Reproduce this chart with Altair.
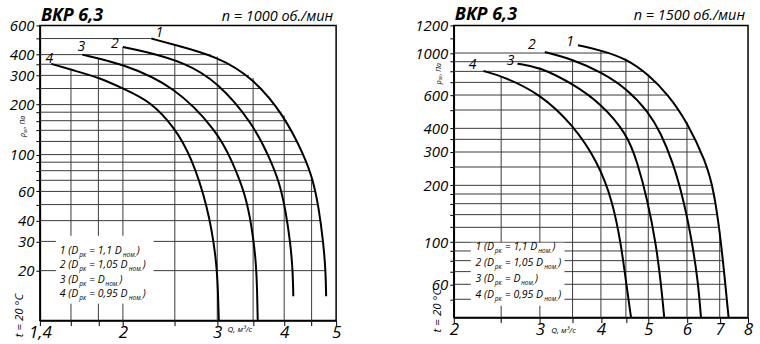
import numpy as np
import pandas as pd
import altair as alt

FONT = "Open Sans"

# ---------------- left panel: n = 1000 ----------------
L_TITLE = "ВКР 6,3"
L_SPEED = "n = 1000 об./мин"
L_Q1 = [2.26, 2.5, 3.0, 3.5, 4.0, 4.37, 4.53, 4.64, 4.73, 4.78, 4.79]
L_P1 = [500, 458, 390, 290, 172, 97, 70, 48, 30, 20, 14]
L_Q2 = [2.0, 2.2, 2.6, 3.0, 3.5, 3.76, 3.92, 4.03, 4.11, 4.15, 4.16]
L_P2 = [445, 418, 360, 276, 153, 95, 68, 45, 29, 20, 14]
L_Q3 = [1.68, 2.0, 2.5, 3.0, 3.19, 3.38, 3.48, 3.54, 3.56, 3.57]
L_P3 = [400, 352, 258, 138, 93, 59, 37, 23.5, 16, 10]
L_Q4 = [1.47, 1.61, 1.81, 2.0, 2.25, 2.5, 2.68, 2.88, 2.99, 3.01, 3.02]
L_P4 = [352, 323, 290, 250, 210, 145, 98, 49, 23.5, 15, 10]
L_HGRID = [500, 400, 350, 300, 250, 200, 180, 160, 140, 120, 100, 90, 80, 70, 60, 50, 40, 30, 20]
L_VGRID = [1.6, 1.8, 2.0, 2.5, 3.0, 3.5, 4.0, 4.5]
L_Y_LABEL_VALUES = [600, 400, 300, 200, 100, 60, 40, 30, 20]
L_Y_LABEL_TEXT = ["600", "400", "300", "200", "100", "60", "40", "30", "20"]
L_X_LABEL_VALUES = [1.4, 2, 3, 4, 5]
L_X_LABEL_TEXT = ["1,4", "2", "3", "4", "5"]
L_X_DOMAIN = [1.4, 5]
L_Y_DOMAIN = [10, 600]

# ---------------- right panel: n = 1500 ----------------
R_TITLE = "ВКР 6,3"
R_SPEED = "n = 1500 об./мин"
R_Q1 = [3.59, 4.0, 4.52, 5.0, 5.5, 6.0, 6.56, 6.82, 7.03, 7.18, 7.3]
R_P1 = [1100, 1035, 930, 770, 600, 433, 267, 185, 105, 62, 40]
R_Q2 = [3.07, 3.5, 4.0, 4.52, 5.0, 5.3, 5.61, 5.92, 6.16, 6.32, 6.41]
R_P2 = [1012, 927, 794, 649, 489, 380, 267, 164, 97, 62, 40]
R_Q3 = [2.70, 3.0, 3.5, 4.0, 4.52, 4.75, 4.98, 5.19, 5.32, 5.39]
R_P3 = [879, 843, 689, 541, 375, 265, 168, 97, 57.5, 40]
R_Q4 = [2.30, 2.52, 3.0, 3.5, 3.94, 4.23, 4.40, 4.52, 4.61]
R_P4 = [804, 753, 611, 420, 267, 164, 97, 57.5, 40]
R_HGRID = [1000, 900, 800, 700, 600, 500, 400, 350, 300, 250, 200, 180, 160, 140, 120,
           100, 90, 80, 70, 60, 50]
R_VGRID = [2.5, 3.0, 3.5, 4.0, 4.5, 5.0, 6.0, 7.0]
R_Y_EXTRA_TICKS = [1200, 1400]
R_Y_LABEL_VALUES = [1400, 1000, 600, 400, 300, 200, 100, 60]
R_Y_LABEL_TEXT = ["1200", "1000", "600", "400", "300", "200", "100", "60"]
R_X_LABEL_VALUES = [2, 3, 4, 5, 6, 7, 8]
R_X_LABEL_TEXT = ["2", "3", "4", "5", "6", "7", "8"]
R_X_DOMAIN = [2, 8]
R_Y_DOMAIN = [40, 1400]

CURVE_NAMES = ["1", "2", "3", "4"]
LEGEND_LINES = [
    [("1 (D", False), ("рк", True), (" = 1,1 D", False), ("ном.", True), (")", False)],
    [("2 (D", False), ("рк", True), (" = 1,05 D", False), ("ном.", True), (")", False)],
    [("3 (D", False), ("рк", True), (" = D", False), ("ном.", True), (")", False)],
    [("4 (D", False), ("рк", True), (" = 0,95 D", False), ("ном.", True), (")", False)],
]
AXIS_P = ("p", "sv", ", Па")
TEMP_TEXT = "t = 20 °C"
Q_TEXT = "Q, м³/с"

GRID_COLOR = "#3a3a3a"

# approximate advance widths (em) for width estimation of legend segments
W = {" ": 0.26, "(": 0.30, ")": 0.30, "D": 0.72, "=": 0.57, ",": 0.25, ".": 0.26,
     "р": 0.60, "к": 0.50, "н": 0.60, "о": 0.58, "м": 0.74, "p": 0.60, "s": 0.46,
     "v": 0.50, "П": 0.72, "а": 0.55}
for d in "0123456789":
    W[d] = 0.572


def tw(s, size):
    return sum(W.get(c, 0.55) for c in s) * size


def q_at_p(qs, ps, g):
    if g > ps[0] + 1e-9 or g < ps[-1] - 1e-9:
        return None
    for i in range(len(ps) - 1):
        if ps[i] >= g >= ps[i + 1]:
            a, b = np.log(ps[i]), np.log(ps[i + 1])
            t = 0.0 if a == b else (a - np.log(g)) / (a - b)
            return float(np.exp(np.log(qs[i]) + t * (np.log(qs[i + 1]) - np.log(qs[i]))))
    return float(qs[0])


def p_at_q(qs, ps, v):
    if v < qs[0] - 1e-9 or v > qs[-1] + 1e-9:
        return None
    for i in range(len(qs) - 1):
        if qs[i] <= v <= qs[i + 1]:
            a, b = np.log(qs[i]), np.log(qs[i + 1])
            t = 0.0 if a == b else (np.log(v) - a) / (b - a)
            return float(np.exp(np.log(ps[i]) + t * (np.log(ps[i + 1]) - np.log(ps[i]))))
    return float(ps[0])


def label_expr(values, texts):
    parts = [f"abs(datum.value - {v}) < 1e-6 ? '{t}'" for v, t in zip(values, texts)]
    return " : ".join(parts) + " : ''"


def txt(text, x, y, size, style="italic", weight="normal", align="left",
        baseline="alphabetic", angle=0):
    return alt.Chart(alt.Data(values=[{}])).mark_text(
        text=text, font=FONT, fontSize=size, fontStyle=style, fontWeight=weight,
        align=align, baseline=baseline, angle=angle, color="black"
    ).encode(x=alt.value(x), y=alt.value(y))


def panel(curves, hgrid, vgrid, xdom, ydom, xlv, xlt, ylv, ylt, yextra, width, height,
          title, speed, lab_off, box, leg_x, leg_y, leg_step, p_pos, t_pos, q_pos,
          title_y, bounds):
    xscale = alt.Scale(type="log", domain=xdom, nice=False)
    yscale = alt.Scale(type="log", domain=ydom, nice=False)
    xaxis = alt.Axis(values=sorted(set(vgrid + xlv)), labelExpr=label_expr(xlv, xlt),
                     grid=False, tickSize=5, tickColor="black", tickWidth=1,
                     domainColor="black", domainWidth=1.5, labelFont=FONT,
                     labelFontStyle="italic", labelFontSize=17, labelColor="black",
                     labelPadding=-1, labelFlush=False, labelOverlap=False, title=None)
    yaxis = alt.Axis(values=sorted(set(hgrid + ylv + yextra)), labelExpr=label_expr(ylv, ylt),
                     grid=False, tickSize=4, tickColor="black", tickWidth=1,
                     domainColor="black", domainWidth=1.5, labelFont=FONT,
                     labelFontStyle="italic", labelFontSize=15, labelColor="black",
                     labelPadding=2, labelFlush=False, labelOverlap=False, title=None)

    def X(f):
        return alt.X(f, type="quantitative", scale=xscale, axis=xaxis)

    def Y(f):
        return alt.Y(f, type="quantitative", scale=yscale, axis=yaxis)

    hrows = []
    for g in hgrid:
        ends = [q_at_p(q, p, g) for q, p in curves]
        ends = [e for e in ends if e is not None]
        if ends:
            hrows.append({"y": g, "x": xdom[0], "x2": max(ends)})
    vrows = []
    for v in vgrid:
        tops = [p_at_q(q, p, v) for q, p in curves]
        tops = [t for t in tops if t is not None]
        if tops:
            vrows.append({"x": v, "y": ydom[0], "y2": max(tops)})
    crow = []
    for name, (q, p) in zip(CURVE_NAMES, curves):
        for a, b in zip(q, p):
            crow.append({"curve": name, "Q": a, "P": b})

    layers = []
    layers.append(alt.Chart(pd.DataFrame(hrows)).mark_rule(color=GRID_COLOR, strokeWidth=1)
                  .encode(x=X("x"), x2="x2", y=Y("y")))
    layers.append(alt.Chart(pd.DataFrame(vrows)).mark_rule(color=GRID_COLOR, strokeWidth=1)
                  .encode(x=X("x"), y=Y("y"), y2="y2"))
    layers.append(alt.Chart(alt.Data(values=[{}])).mark_rect(color="white")
                  .encode(x=alt.value(box[0]), x2=alt.value(box[1]),
                          y=alt.value(box[2]), y2=alt.value(box[3])))
    layers.append(alt.Chart(pd.DataFrame(crow)).mark_line(color="black", strokeWidth=2,
                                                         interpolate="basis")
                  .encode(x=X("Q"), y=Y("P"), detail="curve:N", order="Q:Q"))
    for name, (q, p), (dx, dy) in zip(CURVE_NAMES, curves, lab_off):
        layers.append(alt.Chart(pd.DataFrame([{"Q": q[0], "P": p[0], "t": name}]))
                      .mark_text(font=FONT, fontSize=14, fontStyle="italic", color="black",
                                 align="center", baseline="middle", dx=dx, dy=dy)
                      .encode(x=X("Q"), y=Y("P"), text="t:N"))
    # legend with subscripts
    for i, segs in enumerate(LEGEND_LINES):
        x = leg_x
        y = leg_y + i * leg_step
        for s, sub in segs:
            size = 6.5 if sub else 10.5
            if s.startswith(" "):
                x += W[" "] * size
                s = s.lstrip()
            layers.append(txt(s, x, y + (3.8 if sub else 0), size, baseline="middle"))
            x += tw(s, size)
    # titles
    layers.append(txt(title, 1, title_y, 18, weight="bold"))
    layers.append(txt(speed, width - 3, title_y, 14.5, align="right"))
    # rotated axis label p_sv, Па
    px, py = p_pos
    layers.append(txt(AXIS_P[0], px, py, 7, baseline="middle", angle=270))
    py2 = py - tw(AXIS_P[0], 7)
    layers.append(txt(AXIS_P[1], px + 1.5, py2, 5, baseline="middle", angle=270))
    py3 = py2 - tw(AXIS_P[1], 5)
    layers.append(txt(AXIS_P[2], px, py3, 7, baseline="middle", angle=270))
    layers.append(txt(TEMP_TEXT, t_pos[0], t_pos[1], 11.5, align="center",
                      baseline="middle", angle=270))
    layers.append(txt(Q_TEXT, q_pos[0], q_pos[1], 8, align="center", baseline="middle"))
    # invisible bounds for precise layout
    layers.append(alt.Chart(alt.Data(values=[{}])).mark_rect(opacity=0)
                  .encode(x=alt.value(bounds[0]), x2=alt.value(bounds[1]),
                          y=alt.value(bounds[2]), y2=alt.value(bounds[3])))
    return alt.layer(*layers).properties(width=width, height=height)


LW, LH = 297, 296
RW, RH = 295, 293
SPACING = 118

left = panel(
    [(L_Q1, L_P1), (L_Q2, L_P2), (L_Q3, L_P3), (L_Q4, L_P4)],
    L_HGRID, L_VGRID, L_X_DOMAIN, L_Y_DOMAIN, L_X_LABEL_VALUES, L_X_LABEL_TEXT,
    L_Y_LABEL_VALUES, L_Y_LABEL_TEXT, [600], LW, LH, L_TITLE, L_SPEED,
    [(8, -6), (-8, -3), (-1, -8), (-2, -5)],
    (16, 114, 211, 279), 20, 226, 14.5,
    (-16.5, 112), (-20, 291), (200.5, 305.5), -4.5,
    (-39, LW + SPACING / 2, -24, 320),
)
right = panel(
    [(R_Q1, R_P1), (R_Q2, R_P2), (R_Q3, R_P3), (R_Q4, R_P4)],
    R_HGRID, R_VGRID, R_X_DOMAIN, R_Y_DOMAIN, R_X_LABEL_VALUES, R_X_LABEL_TEXT,
    R_Y_LABEL_VALUES, R_Y_LABEL_TEXT, R_Y_EXTRA_TICKS, RW, RH, R_TITLE, R_SPEED,
    [(-8, -3), (-13, -7), (-7, -3), (-11, -6)],
    (17, 111, 218, 281), 21.7, 222.7, 15.8,
    (-15, 59), (-16, 286), (110, 306), -5,
    (-SPACING / 2, RW + 11, -24, 320),
)

chart = alt.hconcat(left, right, spacing=SPACING, bounds="flush").properties(
    padding=0
).configure_view(stroke="black", strokeWidth=1.5)

chart.save("out.html", embed_options={"renderer": "svg", "actions": False})
